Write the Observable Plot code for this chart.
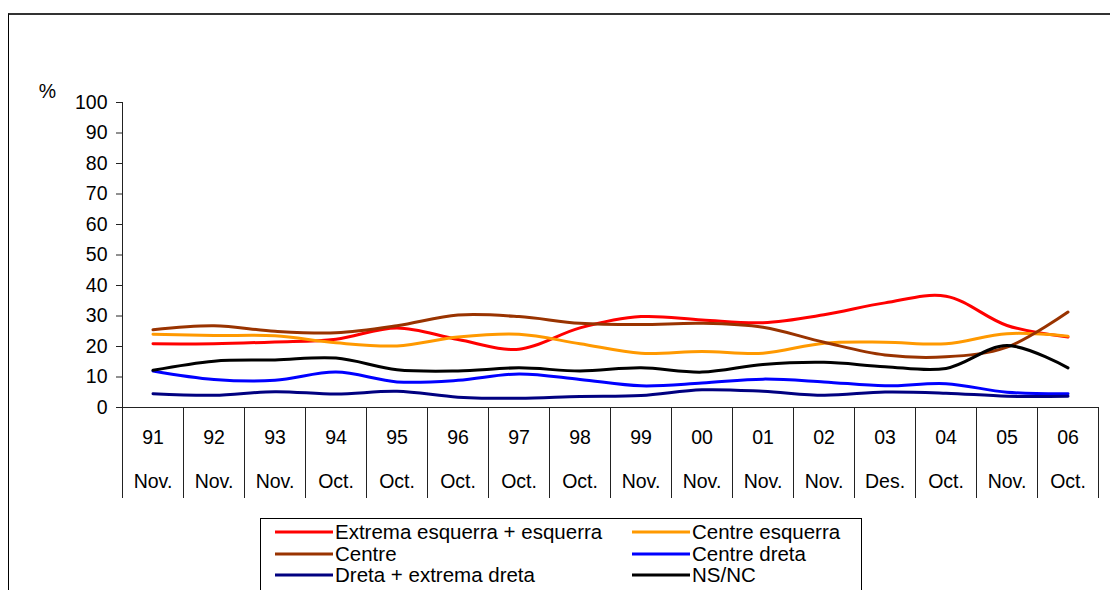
<!DOCTYPE html>
<html>
<head>
<meta charset="utf-8">
<script src="https://cdn.jsdelivr.net/npm/d3@7"></script>
<script src="https://cdn.jsdelivr.net/npm/@observablehq/plot@0.6"></script>
<style>
  html, body { margin: 0; padding: 0; background: #fff; }
  body { width: 1110px; height: 590px; position: relative; overflow: hidden; font-family: "Liberation Sans", Arial, sans-serif; }
  #frame { position: absolute; left: 8px; top: 13px; width: 1110px; height: 600px; border-top: 2px solid #333; border-left: 1px solid #000; box-sizing: border-box; }
  #chart { position: absolute; left: 0; top: 0; }
  #legend { position: absolute; left: 260px; top: 518px; width: 602px; height: 90px; border: 1px solid #000; box-sizing: border-box; background: #fff; }
  .item { position: absolute; height: 22px; display: flex; align-items: center; font-size: 20.5px; color: #000; white-space: nowrap; }
  .item svg { margin-right: 2px; }
</style>
</head>
<body>
<div id="frame"></div>
<div id="chart"></div>
<div id="legend"></div>
<script>
const years  = ["91","92","93","94","95","96","97","98","99","00","01","02","03","04","05","06"];
const months = ["Nov.","Nov.","Nov.","Oct.","Oct.","Oct.","Oct.","Oct.","Nov.","Nov.","Nov.","Nov.","Des.","Oct.","Nov.","Oct."];
const yTicks = [0,10,20,30,40,50,60,70,80,90,100];

const seriesNames = ["Extrema esquerra + esquerra","Centre esquerra","Centre","Centre dreta","Dreta + extrema dreta","NS/NC"];
const seriesColors = ["#FF0000","#FF9900","#993300","#0000FF","#000080","#000000"];

const extremaEsquerra = [20.9,20.9,21.5,22.4,26.1,22.3,19.1,26.1,29.8,28.7,27.8,30.4,34.3,36.5,26.9,23.1];
const centreEsquerra  = [24.0,23.6,23.5,21.2,20.2,23.1,24.0,20.9,17.8,18.4,17.8,21.1,21.4,20.9,24.2,23.4];
const centre          = [25.5,26.8,25.0,24.5,26.8,30.3,29.8,27.6,27.2,27.6,26.3,21.4,17.2,16.6,19.8,31.3];
const centreDreta     = [12.0,9.2,8.9,11.6,8.4,8.9,11.0,9.2,7.1,8.0,9.3,8.4,7.1,7.8,5.0,4.5];
const dreta           = [4.5,4.0,5.2,4.4,5.3,3.4,3.0,3.6,3.9,5.8,5.3,4.0,5.1,4.7,3.7,3.7];
const nsnc            = [12.2,15.2,15.6,16.2,12.4,12.0,13.0,12.0,13.0,11.6,14.1,14.8,13.4,12.8,20.3,13.0];

const seriesValues = [extremaEsquerra, centreEsquerra, centre, centreDreta, dreta, nsnc];

const n = years.length;
const centers = d3.range(n).map(i => i + 0.5);
const bounds = d3.range(n + 1);

const font = 19.5;
const marks = [
  Plot.ruleX([0], {stroke: "#222", strokeWidth: 1}),
  Plot.ruleY([0], {stroke: "#222", strokeWidth: 1}),
  Plot.axisY({ticks: yTicks, tickSize: 6, tickPadding: 9, fontSize: font, stroke: "#222", color: "#000", label: null}),
  Plot.axisX({ticks: bounds, tickSize: 91, tickFormat: () => "", stroke: "#222", label: null}),
  Plot.axisX({ticks: centers, tickSize: 0, tickPadding: 23, fontSize: font, tickFormat: d => years[Math.floor(d)], label: null}),
  Plot.axisX({ticks: centers, tickSize: 0, tickPadding: 67, fontSize: font, tickFormat: d => months[Math.floor(d)], label: null}),
  Plot.text(["%"], {frameAnchor: "top-left", dx: -75, dy: -18, fontSize: font, textAnchor: "middle"})
];
seriesValues.forEach((vals, k) => {
  marks.push(Plot.line(vals.map((v, i) => ({x: centers[i], y: v})), {
    x: "x", y: "y", stroke: seriesColors[k], strokeWidth: 3, curve: "catmull-rom"
  }));
});

const plot = Plot.plot({
  width: 1110,
  height: 590,
  marginLeft: 122,
  marginRight: 12,
  marginTop: 102,
  marginBottom: 183,
  x: {type: "linear", domain: [0, n]},
  y: {domain: [0, 100]},
  style: {fontFamily: "'Liberation Sans', Arial, sans-serif", fontSize: font + "px", background: "transparent", color: "#000", overflow: "visible"},
  marks
});
document.getElementById("chart").appendChild(plot);

// legend
const legend = document.getElementById("legend");
const colX = [14, 371];
const rowY = [2, 24, 45];
seriesNames.forEach((name, k) => {
  const div = document.createElement("div");
  div.className = "item";
  div.style.left = colX[k % 2] + "px";
  div.style.top = rowY[Math.floor(k / 2)] + "px";
  div.innerHTML = `<svg width="58" height="6"><line x1="0" y1="3" x2="58" y2="3" stroke="${seriesColors[k]}" stroke-width="3"/></svg><span>${name}</span>`;
  legend.appendChild(div);
});
</script>
</body>
</html>
